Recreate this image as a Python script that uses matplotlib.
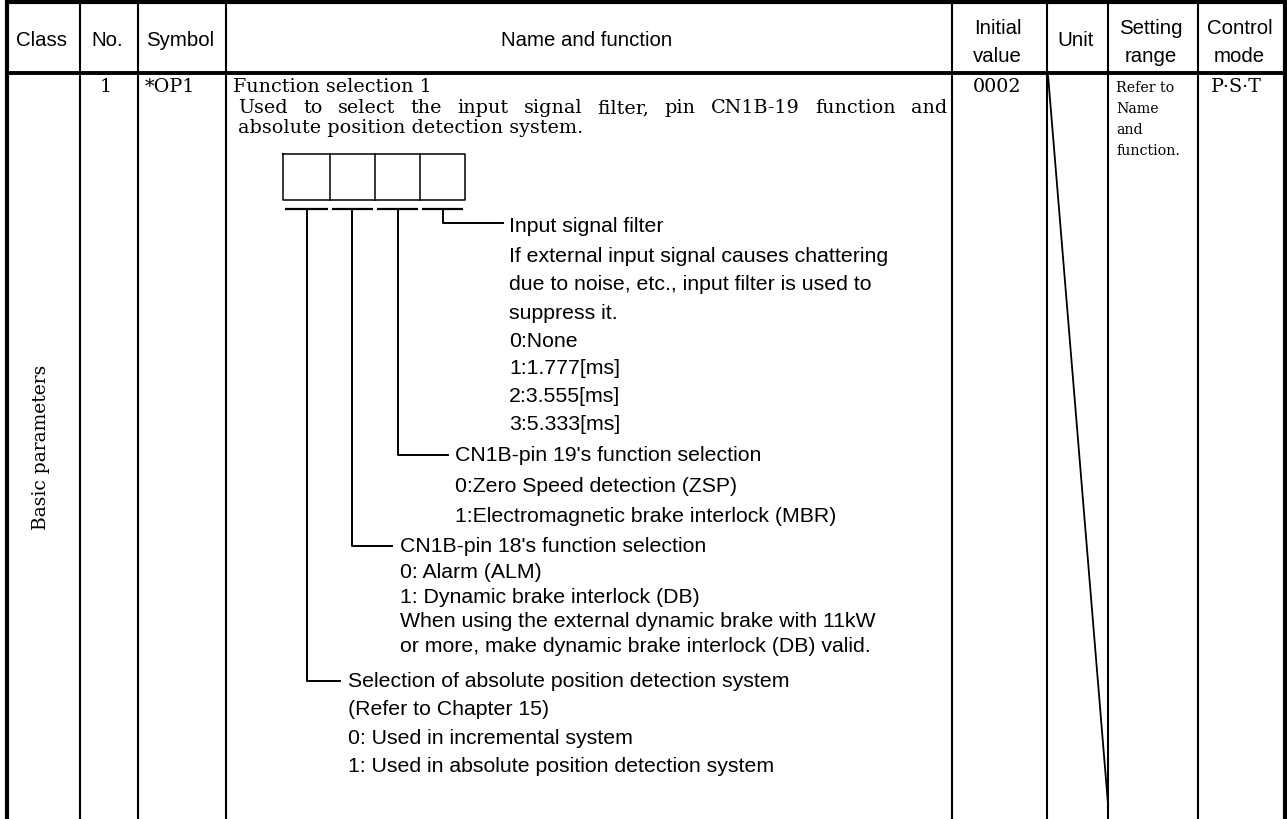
import matplotlib.pyplot as plt

W, H = 1287, 820

# table content
header_labels = ["Class", "No.", "Symbol", "Name and function",
                 "Initial\nvalue", "Unit", "Setting\nrange", "Control\nmode"]
row_class = "Basic parameters"
row_no = "1"
row_symbol = "*OP1"
row_initial = "0002"
row_range = ["Refer to", "Name", "and", "function."]
row_mode = "P·S·T"

intro_title = "Function selection 1"
intro_lines = ["Used to select the input signal filter, pin CN1B-19 function and",
               "absolute position detection system."]

block_a = ["Input signal filter",
           "If external input signal causes chattering",
           "due to noise, etc., input filter is used to",
           "suppress it.",
           "0:None",
           "1:1.777[ms]",
           "2:3.555[ms]",
           "3:5.333[ms]"]
block_b = ["CN1B-pin 19's function selection",
           "0:Zero Speed detection (ZSP)",
           "1:Electromagnetic brake interlock (MBR)"]
block_c = ["CN1B-pin 18's function selection",
           "0: Alarm (ALM)",
           "1: Dynamic brake interlock (DB)",
           "When using the external dynamic brake with 11kW",
           "or more, make dynamic brake interlock (DB) valid."]
block_d = ["Selection of absolute position detection system",
           "(Refer to Chapter 15)",
           "0: Used in incremental system",
           "1: Used in absolute position detection system"]

# layout (pixels)
col_edges = [7, 80, 138, 226, 952, 1047, 1108, 1198, 1285]
head_y = 74
SANS = "Liberation Sans"
SERIF = "DejaVu Serif"

fig = plt.figure(figsize=(W / 100, H / 100), dpi=100)
ax = fig.add_axes([0, 0, 1, 1])
ax.set_xlim(0, W)
ax.set_ylim(H, 0)
ax.axis("off")
r = fig.canvas.get_renderer()


def fit(text, family, px):
    t = ax.text(0, 0, text, fontsize=10, family=family)
    w = t.get_window_extent(r).width
    t.remove()
    return 10 * px / w


fs_head = fit("Control", SANS, 66)
fs_sans = fit("Selection of absolute position detection system", SANS, 442)
fs_serif = fit(intro_title, SERIF, 198)
fs_small = fit("Refer to", SERIF, 58)
fs_class = fit(row_class, SERIF, 167)

# grid lines
for i, x in enumerate(col_edges):
    lw = 3.0 if i in (0, len(col_edges) - 1) else 1.5
    ax.plot([x, x], [2, H], color="black", lw=lw, solid_capstyle="butt")
ax.plot([5, 1287], [3, 3], color="black", lw=3.0, solid_capstyle="butt")
ax.plot([5, 1287], [head_y, head_y], color="black", lw=2.8, solid_capstyle="butt")

# header
centers = [(a + b) / 2 - 2 for a, b in zip(col_edges[:-1], col_edges[1:])]
for cx, lab in zip(centers, header_labels):
    if "\n" in lab:
        top, bot = lab.split("\n")
        ax.text(cx, 28, top, ha="center", va="center", fontsize=fs_head, family=SANS)
        ax.text(cx, 57, bot, ha="center", va="center", fontsize=fs_head, family=SANS)
    else:
        ax.text(cx, 41, lab, ha="center", va="center", fontsize=fs_head, family=SANS)

# first row cells
ax.text(centers[0], 447, row_class, rotation=90, ha="center", va="center",
        fontsize=fs_class, family=SERIF)
ax.text(106, 87, row_no, ha="center", va="center", fontsize=fs_serif, family=SERIF)
ax.text(170, 87, row_symbol, ha="center", va="center", fontsize=fs_serif, family=SERIF)
ax.text(997, 87, row_initial, ha="center", va="center", fontsize=fs_serif, family=SERIF)
ax.text(1236, 87, row_mode, ha="center", va="center", fontsize=fs_serif, family=SERIF)
for k, s in enumerate(row_range):
    ax.text(1116, 88 + 21 * k, s, ha="left", va="center", fontsize=fs_small, family=SERIF)

# diagonal in the unit cell
ax.plot([1048, 1108], [76, 805], color="black", lw=1.3)

# intro text (second line justified)
ax.text(233, 87, intro_title, va="center", fontsize=fs_serif, family=SERIF)
words = intro_lines[0].split()
arts = [ax.text(0, 108, w, va="center", fontsize=fs_serif, family=SERIF) for w in words]
widths = [a.get_window_extent(r).width for a in arts]
gap = (947 - 238 - sum(widths)) / (len(words) - 1)
x = 238
for a, w in zip(arts, widths):
    a.set_x(x)
    x += w + gap
ax.text(238, 128, intro_lines[1], va="center", fontsize=fs_serif, family=SERIF)

# digit boxes
box_x = [283, 330, 375, 420, 465]
ax.plot([283, 465, 465, 283, 283], [155, 155, 201, 201, 155], color="black", lw=1.1)
for bx in box_x[1:-1]:
    ax.plot([bx, bx], [155, 201], color="black", lw=1.1)
for a, b in zip(box_x[:-1], box_x[1:]):
    ax.plot([a + 2, b - 2], [210, 210], color="black", lw=1.6, solid_capstyle="butt")

# leader lines and descriptions
blocks = [
    (443, 224, 503, 509, [226, 256, 285, 314, 342, 369, 397, 425], block_a),
    (398, 456, 448, 455, [456, 487, 517], block_b),
    (352, 547, 392, 400, [547, 573, 598, 622, 647], block_c),
    (307, 682, 340, 348, [682, 710, 739, 767], block_d),
]
for vx, hy, hx, tx, ys, lines in blocks:
    ax.plot([vx, vx, hx], [210, hy, hy], color="black", lw=1.4)
    for y, s in zip(ys, lines):
        ax.text(tx, y, s, va="center", fontsize=fs_sans, family=SANS)

fig.savefig("out.png", dpi=100, facecolor="white")
